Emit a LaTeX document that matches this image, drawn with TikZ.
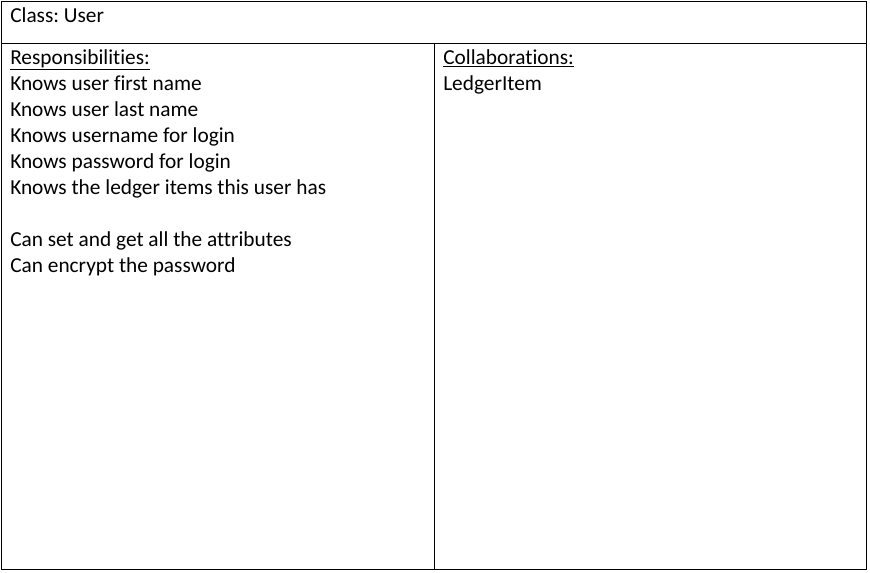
\documentclass[tikz,border=0pt]{standalone}
\usepackage{fontspec}
\setmainfont[Ligatures={NoCommon}]{Carlito}
\usepackage{tikz}
\usetikzlibrary{positioning}
\frenchspacing

\tikzset{
	cardtext/.style={anchor=base west, inner sep=0pt, font=\fontsize{16}{19.5}\selectfont},
	cardline/.style={line width=0.75pt}
}

\begin{document}
\begin{tikzpicture}[x=0.75pt, y=-0.75pt]
			\useasboundingbox (0, 0) rectangle (870, 572);
			\draw [cardline] (1, 1) rectangle (866, 569);
			\draw [cardline] (1, 43)--(866, 43);
			\draw [cardline] (434, 43)--(434, 569);
			\node [cardtext] (cls) at (10, 22) {Class: User};
			\node [cardtext] (resp) at (10, 64) {\underline{Responsibilities:}};
			\node [cardtext] (r1) at (10, 90) {Knows user first name};
			\node [cardtext] (r2) at (10, 116) {Knows user last name};
			\node [cardtext] (r3) at (10, 142) {Knows username for login};
			\node [cardtext] (r4) at (10, 168) {Knows password for login};
			\node [cardtext] (r5) at (10, 194) {Knows the ledger items this user has};
			\node [cardtext] (r6) at (10, 246) {Can set and get all the attributes};
			\node [cardtext] (r7) at (10, 272) {Can encrypt the password};
			\node [cardtext] (collab) at (443, 64) {\underline{Collaborations:}};
			\node [cardtext] (c1) at (443, 90) {LedgerItem};
		\end{tikzpicture}
\end{document}
